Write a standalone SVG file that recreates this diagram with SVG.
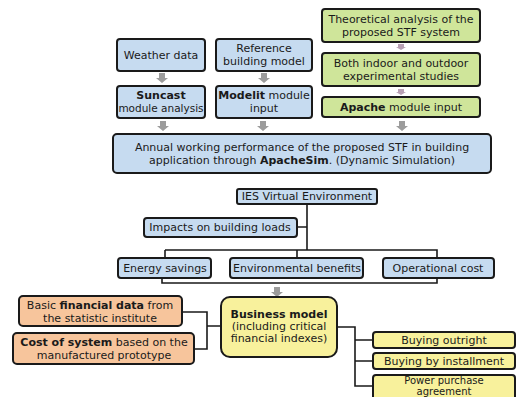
<svg xmlns="http://www.w3.org/2000/svg" xmlns:xlink="http://www.w3.org/1999/xlink" width="517" height="397" viewBox="0 0 517 397">
<style>
text{font-family:"DejaVu Sans","Liberation Sans",sans-serif;font-size:11px;fill:#1a1a1a;text-anchor:middle}
.b{font-weight:bold}
.s{font-size:10.5px}
.t{font-size:10px}
.box{stroke:#1a1a1a;stroke-width:2}
.blue{fill:#c6dbf0}
.green{fill:#cfe59a}
.orange{fill:#f7c59c}
.yellow{fill:#f8f19c}
.ln{fill:none;stroke:#1a1a1a;stroke-width:1.6}
</style>
<defs>
<path id="arr" d="M-3,0 H3 V5 H6 L0,10 L-6,5 H-3 Z" fill="#9c9c9c"/>
<path id="arrs" d="M-3,0 H3 V3 H5 L0,6 L-5,3 H-3 Z" fill="#b8a0b4"/>
</defs>
<rect width="517" height="397" fill="#ffffff"/>
<g id="connectors">
<use href="#arr" x="162" y="73"/>
<use href="#arr" x="264" y="73"/>
<use href="#arrs" x="401" y="44"/>
<use href="#arrs" x="401" y="89"/>
<use href="#arr" x="163" y="121"/>
<use href="#arr" x="263" y="121"/>
<use href="#arr" x="402" y="121"/>
<path class="ln" d="M307,204 V250 M297,227 H307 M165,250 H437 V283 H162 V278 M165,250 V258 M297,250 V258"/>
<use href="#arr" x="277" y="287"/>
<path class="ln" d="M182,312 H207 V349 H194 M207,326 H221"/>
<path class="ln" d="M337,327 H355 V386 H373 M355,340 H373 M355,361 H373"/>
</g>
<g id="weather"><rect class="box blue" x="117" y="39" width="88" height="32" rx="3"/><text x="161" y="59">Weather data</text></g>
<g id="reference"><rect class="box blue" x="216" y="39" width="96" height="32" rx="3"/><text x="264" y="52">Reference</text><text x="264" y="65">building model</text></g>
<g id="suncast"><rect class="box blue" x="117" y="86" width="88" height="32" rx="3"/><text x="161" y="99" class="b">Suncast</text><text x="161" y="112" class="s">module analysis</text></g>
<g id="modelit"><rect class="box blue" x="216" y="86" width="96" height="32" rx="3"/><text x="264" y="99"><tspan class="b">Modelit</tspan> module</text><text x="264" y="112">input</text></g>
<g id="theoretical"><rect class="box green" x="322" y="9" width="158" height="33" rx="3"/><text x="401" y="23">Theoretical analysis of the</text><text x="401" y="36">proposed STF system</text></g>
<g id="indoor"><rect class="box green" x="322" y="53" width="158" height="33" rx="3"/><text x="401" y="67">Both indoor and outdoor</text><text x="401" y="80">experimental studies</text></g>
<g id="apache"><rect class="box green" x="322" y="97" width="158" height="20" rx="3"/><text x="401" y="111"><tspan class="b">Apache</tspan> module input</text></g>
<g id="annual"><rect class="box blue" x="113" y="134" width="378" height="39" rx="4"/><text x="302" y="151">Annual working performance of the proposed STF in building</text><text x="302" y="164">application through <tspan class="b">ApacheSim</tspan>. (Dynamic Simulation)</text></g>
<g id="ies"><rect class="box blue" x="237" y="189" width="140" height="15" rx="2"/><text x="307" y="200">IES Virtual Environment</text></g>
<g id="impacts"><rect class="box blue" x="144" y="218" width="153" height="19" rx="3"/><text x="220" y="231">Impacts on building loads</text></g>
<g id="energy"><rect class="box blue" x="118" y="258" width="93" height="20" rx="3"/><text x="165" y="272">Energy savings</text></g>
<g id="environmental"><rect class="box blue" x="230" y="258" width="133" height="20" rx="3"/><text x="297" y="272">Environmental benefits</text></g>
<g id="operational"><rect class="box blue" x="383" y="258" width="111" height="20" rx="3"/><text x="438" y="272">Operational cost</text></g>
<g id="basic"><rect class="box orange" x="19" y="296" width="163" height="30" rx="4"/><text x="100" y="309">Basic <tspan class="b">financial data</tspan> from</text><text x="100" y="322">the statistic institute</text></g>
<g id="cost"><rect class="box orange" x="13" y="333" width="181" height="31" rx="4"/><text x="104" y="346"><tspan class="b">Cost of system</tspan> based on the</text><text x="104" y="359">manufactured prototype</text></g>
<g id="business"><rect class="box yellow" x="221" y="297" width="116" height="60" rx="9"/><text x="279" y="318" class="b">Business model</text><text x="279" y="330">(including critical</text><text x="279" y="342">financial indexes)</text></g>
<g id="outright"><rect class="box yellow" x="373" y="332" width="142" height="16" rx="3"/><text x="444" y="344">Buying outright</text></g>
<g id="installment"><rect class="box yellow" x="373" y="353" width="142" height="16" rx="3"/><text x="444" y="365">Buying by installment</text></g>
<g id="ppa"><rect class="box yellow" x="373" y="375" width="142" height="30" rx="3"/><text x="444" y="384" class="t">Power purchase</text><text x="444" y="394.5" class="t">agreement</text></g>
</svg>
